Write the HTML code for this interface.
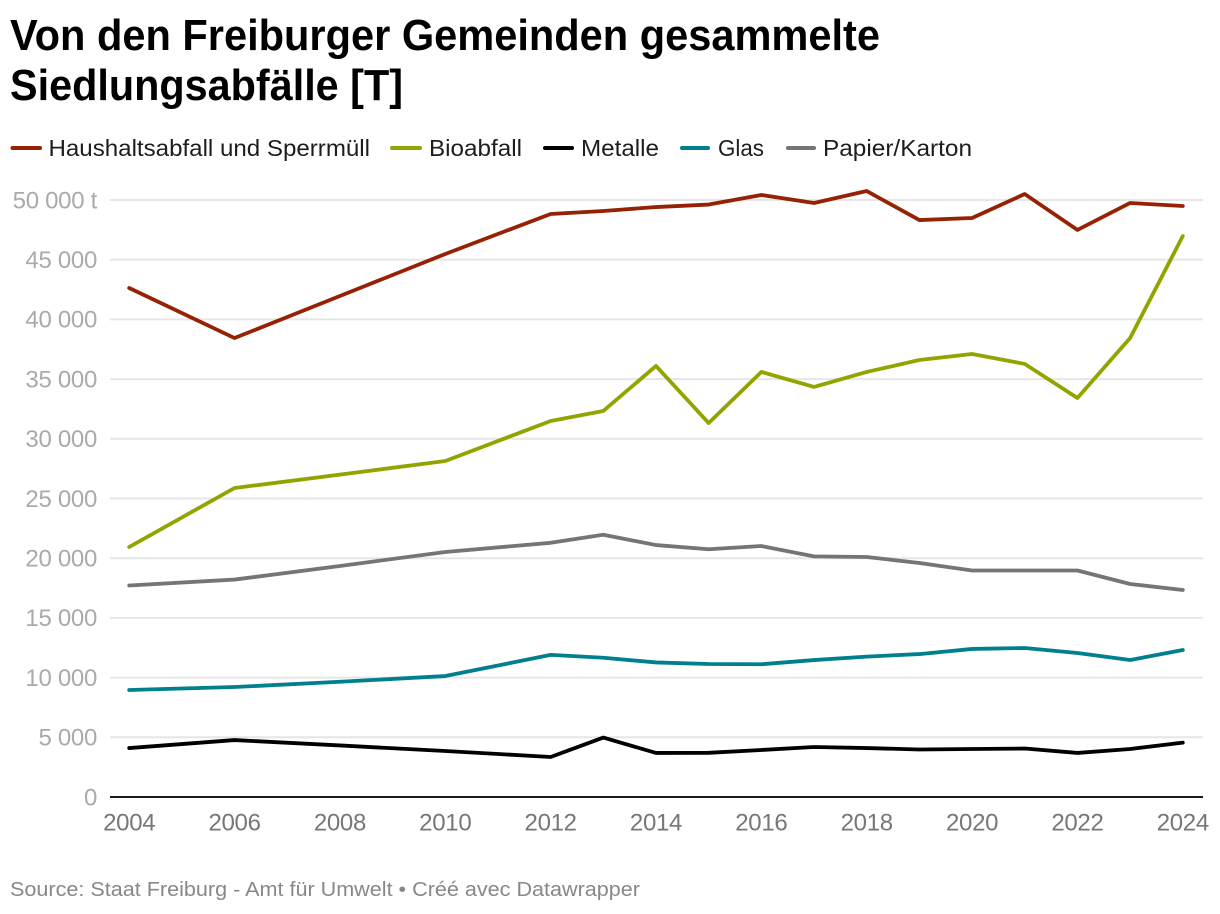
<!DOCTYPE html>
<html lang="de">
<head>
<meta charset="utf-8">
<title>Von den Freiburger Gemeinden gesammelte Siedlungsabfälle</title>
<style>
html,body{margin:0;padding:0;background:#fff;}
svg{display:block;font-family:"Liberation Sans",sans-serif;}
</style>
</head>
<body>
<svg id="chart" width="1220" height="914" viewBox="0 0 1220 914" xmlns="http://www.w3.org/2000/svg">
  <rect width="1220" height="914" fill="#fff"/>
  <g font-weight="700" font-size="44" fill="#000">
    <text x="10" y="50" textLength="870" lengthAdjust="spacingAndGlyphs">Von den Freiburger Gemeinden gesammelte</text>
    <text x="10" y="100" textLength="393" lengthAdjust="spacingAndGlyphs">Siedlungsabfälle [T]</text>
  </g>
  <g font-size="23" fill="#1d1d1d" stroke-linecap="round">
    <line x1="12.5" x2="40" y1="148" y2="148" stroke="#962205" stroke-width="4"/>
    <text x="48.5" y="156" textLength="321.5" lengthAdjust="spacingAndGlyphs">Haushaltsabfall und Sperrmüll</text>
    <line x1="392" x2="420" y1="148" y2="148" stroke="#93a300" stroke-width="4"/>
    <text x="429" y="156" textLength="93" lengthAdjust="spacingAndGlyphs">Bioabfall</text>
    <line x1="545" x2="572" y1="148" y2="148" stroke="#000" stroke-width="4"/>
    <text x="581" y="156" textLength="78" lengthAdjust="spacingAndGlyphs">Metalle</text>
    <line x1="682" x2="708" y1="148" y2="148" stroke="#00808f" stroke-width="4"/>
    <text x="718" y="156" textLength="46" lengthAdjust="spacingAndGlyphs">Glas</text>
    <line x1="788" x2="814" y1="148" y2="148" stroke="#757575" stroke-width="4"/>
    <text x="823" y="156" textLength="149" lengthAdjust="spacingAndGlyphs">Papier/Karton</text>
  </g>
  <g id="grid"></g>
  <g id="yticks" font-size="24" letter-spacing="-0.3" fill="#aaaaaa" text-anchor="end"></g>
  <g id="xticks" font-size="24" letter-spacing="-0.3" fill="#777777" text-anchor="middle"></g>
  <g id="series" fill="none" stroke-width="3.8" stroke-linejoin="round" stroke-linecap="round"></g>
  <line x1="110" x2="1203" y1="797" y2="797" stroke="#1a1a1a" stroke-width="2"/>
  <text x="10" y="896" font-size="20" fill="#888888" textLength="630" lengthAdjust="spacingAndGlyphs">Source: Staat Freiburg - Amt für Umwelt • Créé avec Datawrapper</text>
</svg>
<script>
const years = [2004, 2006, 2008, 2010, 2012, 2013, 2014, 2015, 2016, 2017, 2018, 2019, 2020, 2021, 2022, 2023, 2024];
const haushaltsabfall = [42630, 38440, 41960, 45480, 48830, 49080, 49410, 49620, 50420, 49750, 50750, 48320, 48490, 50500, 47490, 49750, 49500];
const bioabfall = [20940, 25880, 27000, 28140, 31490, 32330, 36100, 31320, 35600, 34340, 35600, 36600, 37100, 36270, 33420, 38440, 46980];
const metalle = [4100, 4770, 4320, 3850, 3350, 4980, 3690, 3700, 3940, 4190, 4100, 3980, 4020, 4060, 3690, 4020, 4550];
const glas = [8960, 9210, 9650, 10130, 11900, 11660, 11270, 11140, 11120, 11470, 11760, 11970, 12400, 12480, 12060, 11470, 12310];
const papierKarton = [17710, 18210, 19350, 20520, 21290, 21960, 21100, 20750, 21020, 20150, 20100, 19600, 18970, 18970, 18970, 17840, 17340];
const yTickValues = [0, 5000, 10000, 15000, 20000, 25000, 30000, 35000, 40000, 45000, 50000];
const yTickLabels = ["0", "5 000", "10 000", "15 000", "20 000", "25 000", "30 000", "35 000", "40 000", "45 000", "50 000 t"];
const xTickValues = [2004, 2006, 2008, 2010, 2012, 2014, 2016, 2018, 2020, 2022, 2024];

const NS = "http://www.w3.org/2000/svg";
function xScale(year) { return 129.2 + (year - 2004) * (1182.8 - 129.2) / 20; }
function yScale(value) { return 797 - value * (797 - 200) / 50000; }

const gridGroup = document.getElementById("grid");
const yGroup = document.getElementById("yticks");
yTickValues.forEach(function (value, i) {
  if (value !== 0) {
    const line = document.createElementNS(NS, "line");
    
    
    line.setAttribute("x1", 110);
    line.setAttribute("x2", 1203);
    line.setAttribute("y1", yScale(value));
    line.setAttribute("y2", yScale(value));
    line.setAttribute("stroke", "#e6e6e6");
    line.setAttribute("stroke-width", 2);
    gridGroup.appendChild(line);
  }
  const label = document.createElementNS(NS, "text");
  
  
  label.setAttribute("x", 97);
  label.setAttribute("y", yScale(value) + 8.3);
  label.textContent = yTickLabels[i];
  yGroup.appendChild(label);
});

const xGroup = document.getElementById("xticks");
xTickValues.forEach(function (year) {
  const label = document.createElementNS(NS, "text");
  
  
  label.setAttribute("x", xScale(year));
  label.setAttribute("y", 830.5);
  label.textContent = String(year);
  xGroup.appendChild(label);
});

const seriesGroup = document.getElementById("series");
function drawSeries(values, color, name) {
  const points = values.map(function (v, i) {
    return xScale(years[i]).toFixed(2) + "," + yScale(v).toFixed(2);
  }).join(" ");
  const line = document.createElementNS(NS, "polyline");
  
  
  line.setAttribute("points", points);
  line.setAttribute("stroke", color);
  seriesGroup.appendChild(line);
}
drawSeries(haushaltsabfall, "#962205", "series-haushaltsabfall");
drawSeries(bioabfall, "#93a300", "series-bioabfall");
drawSeries(papierKarton, "#757575", "series-papier-karton");
drawSeries(glas, "#00808f", "series-glas");
drawSeries(metalle, "#000000", "series-metalle");
</script>
</body>
</html>
